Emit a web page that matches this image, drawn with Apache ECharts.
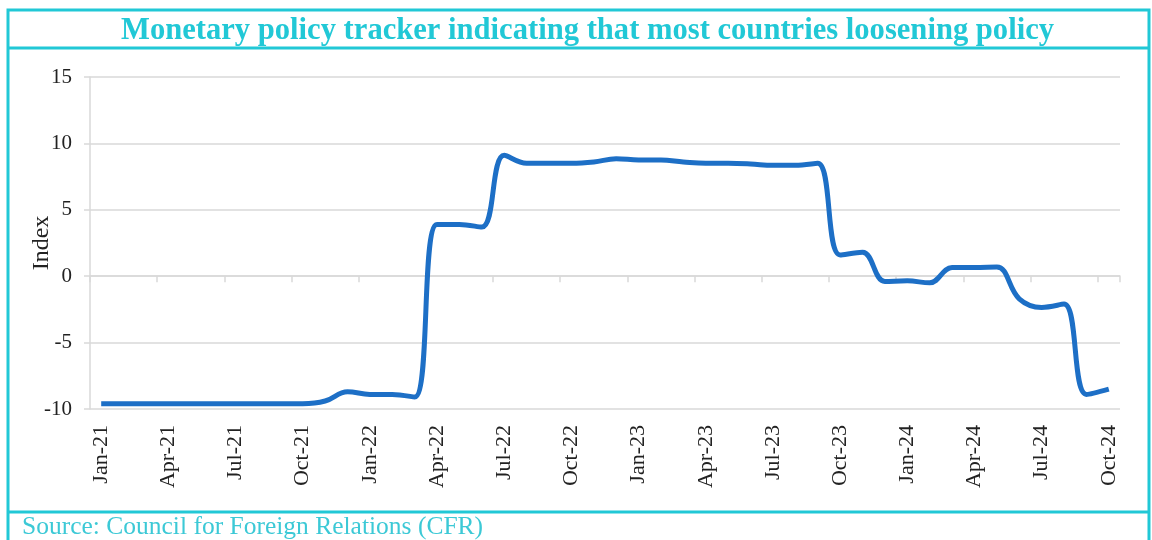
<!DOCTYPE html>
<html>
<head>
<meta charset="utf-8">
<script src="https://cdn.jsdelivr.net/npm/echarts@6/dist/echarts.min.js"></script>
<style>
  html, body { margin: 0; padding: 0; background: #fff; }
  #chart { width: 1152px; height: 540px; }
</style>
</head>
<body>
<div id="chart"></div>
<script>
// months Jan-21 .. Oct-24
var months = ['Jan-21', 'Feb-21', 'Mar-21', 'Apr-21', 'May-21', 'Jun-21', 'Jul-21', 'Aug-21', 'Sep-21', 'Oct-21', 'Nov-21', 'Dec-21',
  'Jan-22', 'Feb-22', 'Mar-22', 'Apr-22', 'May-22', 'Jun-22', 'Jul-22', 'Aug-22', 'Sep-22', 'Oct-22', 'Nov-22', 'Dec-22',
  'Jan-23', 'Feb-23', 'Mar-23', 'Apr-23', 'May-23', 'Jun-23', 'Jul-23', 'Aug-23', 'Sep-23', 'Oct-23', 'Nov-23', 'Dec-23',
  'Jan-24', 'Feb-24', 'Mar-24', 'Apr-24', 'May-24', 'Jun-24', 'Jul-24', 'Aug-24', 'Sep-24', 'Oct-24'];

var indexValues = [-9.6, -9.6, -9.6, -9.6, -9.6, -9.6, -9.6, -9.6, -9.6, -9.6, -9.4, -8.7,
  -8.9, -8.9, -9.1, 3.9, 3.9, 3.7, 9.1, 8.5, 8.5, 8.5, 8.6, 8.85,
  8.75, 8.75, 8.6, 8.5, 8.5, 8.45, 8.35, 8.35, 8.5, 1.6, 1.8, -0.4,
  -0.35, -0.5, 0.65, 0.65, 0.7, -1.7, -2.35, -2.1, -8.9, -8.5];

var yTicks = { min: -10, max: 15, step: 5 };

var teal = '#21c8d6';
var serif = '"Liberation Serif", "DejaVu Serif", serif';

var myChart = echarts.init(document.getElementById('chart'));
var option = {
  animation: false,
  title: {
    text: 'Monetary policy tracker indicating that most countries loosening policy',
    left: 116,
    top: 11,
    textStyle: { color: teal, fontFamily: serif, fontWeight: 'bold', fontSize: 30.6 }
  },
  graphic: [
    { type: 'rect', shape: { x: 8, y: 10, width: 1141, height: 560 }, style: { fill: null, stroke: teal, lineWidth: 3 } },
    { type: 'line', shape: { x1: 8, y1: 48, x2: 1149, y2: 48 }, style: { stroke: teal, lineWidth: 3 } },
    { type: 'line', shape: { x1: 8, y1: 512, x2: 1149, y2: 512 }, style: { stroke: teal, lineWidth: 3 } },
    {
      type: 'text', left: 22, top: 514,
      style: { text: 'Source: Council for Foreign Relations (CFR)', fill: '#3cc9d6', font: '25.5px ' + serif }
    }
  ],
  grid: { left: 90, right: 32, top: 77, bottom: 131 },
  xAxis: [
    {
      type: 'category',
      position: 'bottom',
      data: months,
      boundaryGap: true,
      axisLine: { show: false, onZero: false },
      axisTick: { show: false },
      axisLabel: { interval: 2, rotate: 90, margin: 16, color: '#222', fontFamily: serif, fontSize: 22 }
    },
    {
      type: 'category',
      position: 'bottom',
      data: months,
      boundaryGap: true,
      axisLine: { show: true, onZero: true, lineStyle: { color: '#d9d9d9', width: 1.5 } },
      axisTick: { show: true, interval: 2, length: 6, lineStyle: { color: '#d9d9d9', width: 1.5 } },
      axisLabel: { show: false }
    }
  ],
  yAxis: {
    type: 'value',
    min: yTicks.min,
    max: yTicks.max,
    interval: yTicks.step,
    name: 'Index',
    nameLocation: 'middle',
    nameGap: 36,
    nameMoveOverlap: false,
    nameTextStyle: { color: '#222', fontFamily: serif, fontSize: 24 },
    axisLine: { show: true, lineStyle: { color: '#d9d9d9', width: 1.5 } },
    axisTick: { show: true, length: 6, lineStyle: { color: '#d9d9d9', width: 1.5 } },
    axisLabel: { margin: 18, color: '#222', fontFamily: serif, fontSize: 21 },
    splitLine: { lineStyle: { color: '#d9d9d9', width: 1.5 } }
  },
  series: [
    {
      name: 'Index',
      type: 'line',
      xAxisIndex: 0,
      data: indexValues,
      smooth: 0.4,
      showSymbol: false,
      lineStyle: { color: '#1d6fc6', width: 5 }
    }
  ]
};
myChart.setOption(option);
</script>
</body>
</html>
